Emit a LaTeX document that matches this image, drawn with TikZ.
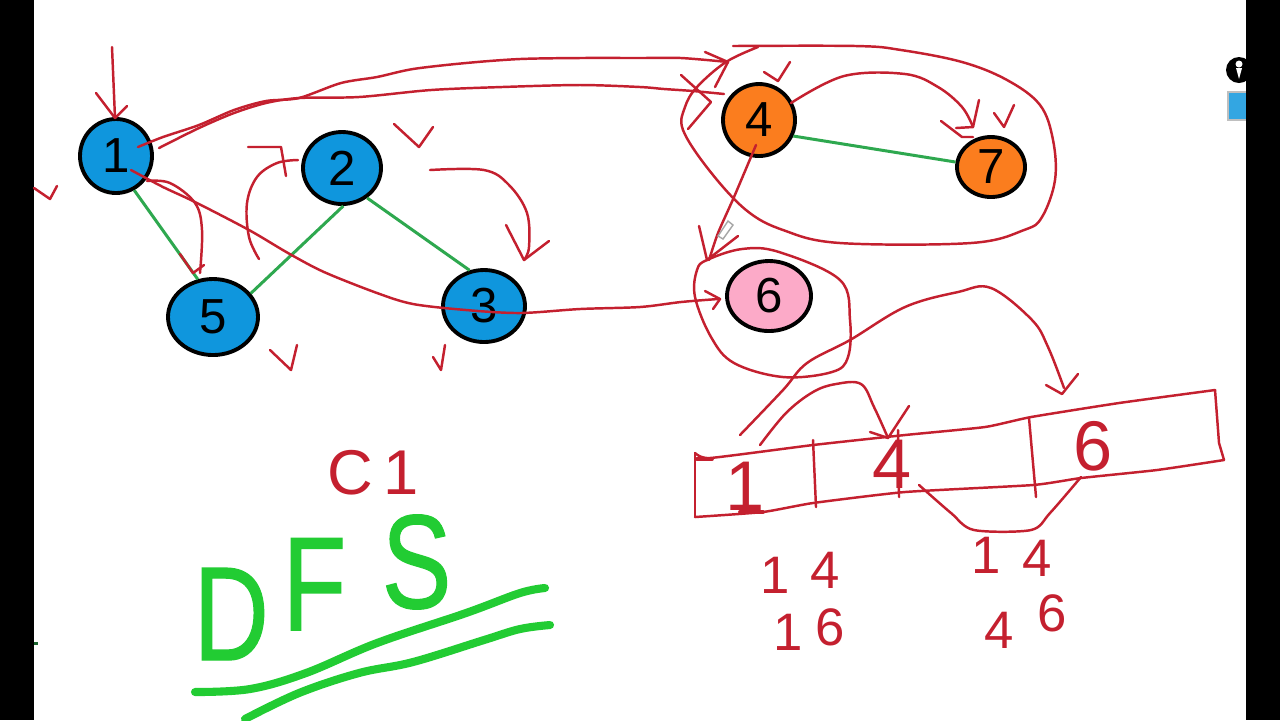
\documentclass[tikz,border=0pt]{standalone}
\usepackage{fontspec}
\setmainfont{Liberation Sans}
\newfontfamily\dfsfont[FakeBold=1]{Liberation Sans}
\usetikzlibrary{shapes.geometric}

\definecolor{penred}{HTML}{C4202F}
\definecolor{pengreen}{HTML}{22CC33}
\definecolor{edgegreen}{HTML}{2EA84F}
\definecolor{nodeblue}{HTML}{0F96DD}
\definecolor{nodeorange}{HTML}{FB7D1E}
\definecolor{nodepink}{HTML}{FCAAC8}

\tikzset{
  vertex/.style={draw=black, line width=1.1pt, ellipse, inner sep=0pt, font=\fontsize{14}{14}\selectfont},
  edge/.style={edgegreen, line width=0.85pt},
  redpen/.style={penred, line width=0.7pt, line cap=round, line join=round},
  greenpen/.style={pengreen, line width=2.3pt, line cap=round, line join=round},
  digit/.style={penred, inner sep=0pt, font=\fontsize{15}{15}\selectfont},
  celldigit/.style={penred, inner sep=0pt, font=\fontsize{20}{20}\selectfont},
}

\begin{document}
\begin{tikzpicture}[x=0.01cm, y=-0.01cm]
    \useasboundingbox (0,0) rectangle (1280,720);
    \fill[white] (0,0) rectangle (1280,720);

    % Bars and pen icon
    \fill[black] (1239,70) circle (13);
    \fill[white] (1239,64) circle (3.5);
    \fill[white] (1236,68) -- (1242,68) -- (1239,79) -- cycle;
    \fill[nodeblue!85!white, draw=black!25] (1228,92) rectangle (1248,120);
    \fill[black] (0,0) rectangle (34,720);
    \fill[black] (1246,0) rectangle (1280,720);
    \fill[edgegreen!60!black] (34,642) rectangle (38,645);

    % Vertices
    \foreach \name/\x/\y/\w/\h/\col in {1/116/156/72/74/nodeblue, 2/342/168/78/72/nodeblue, 3/484/306/82/72/nodeblue, 5/213/317/90/76/nodeblue, 4/759/120/72/72/nodeorange, 7/991/167/68/60/nodeorange, 6/769/296/84/70/nodepink} {
      \node[vertex, fill=\col, minimum width=\w*0.01cm, minimum height=\h*0.01cm] (n\name) at (\x,\y) {\name};
    }

    % Green edges
    \draw[edge] (n1.-62) -- (n5.112);
    \draw[edge] (n2.-88) -- (n5.32);
    \draw[edge] (n2.-50) -- (n3.112);
    \draw[edge] (n4.-25) -- (n7.172);

    % Check marks
    \foreach \xa/\ya/\xb/\yb/\xc/\yc in {34/188/50/199/57/186, 394/124/419/147/433/127, 270/350/291/370/297/345, 433/357/441/370/445/345, 764/72/778/81/790/62, 994/113/1004/127/1014/105} {
      \draw[redpen] (\xa,\ya) -- (\xb,\yb) -- (\xc,\yc);
    }

    % Arrow heads
    \foreach \xa/\ya/\xb/\yb/\xc/\yc in {96/93/115/118/127/106, 180/254/193/273/204/265, 506/225/524/260/549/241, 705/52/728/62/715/87, 941/121/962/137/973/137, 956/128/973/127/979/100, 699/226/707/260/738/236, 705/291/720/299/713/309, 1046/385/1062/394/1078/374, 870/432/888/438/909/406, 248/147/281/147/286/176} {
      \draw[redpen] (\xa,\ya) -- (\xb,\yb) -- (\xc,\yc);
    }

    % Red traversal curves
    \draw[redpen] (112,47) -- (115,118);
    \draw[redpen] plot[smooth, tension=0.5] coordinates {(138,147) (163,137) (199,125) (234,110) (266,101) (299,98) (341,83) (377,77) (413,69) (466,63) (520,59) (580,58) (640,58) (681,58) (728,62)};
    \draw[redpen] plot[smooth, tension=0.5] coordinates {(159,148) (199,128) (234,113) (266,103) (299,98) (359,97) (431,90) (502,87) (580,85) (640,87) (664,89) (693,91) (724,94)};
    \draw[redpen] plot[smooth, tension=0.5] coordinates {(131,170) (163,187) (195,202) (249,230) (288,253) (324,272) (377,293) (413,304) (466,310) (520,313) (580,309) (640,307) (681,302) (718,299)};
    \draw[redpen] plot[smooth, tension=0.6] coordinates {(147,181) (170,183) (195,203) (202,230) (200,273)};
    \draw[redpen] plot[smooth, tension=0.6] coordinates {(259,259) (249,237) (247,203) (257,177) (277,163) (298,160)};
    \draw[redpen] plot[smooth, tension=0.6] coordinates {(430,170) (484,170) (509,185) (527,213) (529,247) (524,260)};
    \draw[redpen] plot[smooth, tension=0.6] coordinates {(791,103) (844,76) (905,74) (938,87) (962,107) (973,127)};
    \draw[redpen] plot[smooth, tension=0.4] coordinates {(756,145) (734,197) (718,233) (709,260)};
    \draw[redpen] (681,75) -- (711,102) -- (688,129);

    % Loops round the visited groups
    \draw[redpen] plot[smooth, tension=0.6] coordinates {(733,46) (856,46) (901,50) (962,62) (1007,80) (1040,105) (1053,140) (1055,180) (1042,217) (1024,230) (971,243) (840,243) (783,230) (746,210) (709,170) (683,130) (685,107) (697,87) (726,62) (758,47)};
    \draw[redpen] plot[smooth cycle, tension=0.6] coordinates {(707,260) (742,249) (779,252) (840,280) (850,320) (848,357) (832,372) (783,377) (734,363) (711,337) (695,297) (697,270)};

    % Pencil cursor
    \draw[black!35, line width=0.4pt, fill=white] (718,236) -- (728,221) -- (733,225) -- (723,239) -- cycle;

    % Array
    \draw[redpen] plot[smooth, tension=0.3] coordinates {(695,453) (710,458) (813,445) (905,435) (985,427) (1031,417) (1119,403) (1215,390)};
    \draw[redpen] (1215,390) -- (1219,443) -- (1224,460);
    \draw[redpen] plot[smooth, tension=0.3] coordinates {(1224,460) (1157,470) (1081,478) (1033,485) (905,492) (813,503) (763,512) (695,517)};
    \draw[redpen] (695,517) -- (695,453);
    \draw[redpen] (813,440) -- (816,507);
    \draw[redpen] (1029,418) -- (1036,497);
    \draw[redpen] (898,430) -- (899,497);
    \draw[redpen, line width=1.1pt] (697,459) -- (712,459);
    \draw[redpen, line width=1.1pt] (740,512) -- (763,512);

    % Arrows over the array
    \draw[redpen] plot[smooth, tension=0.6] coordinates {(740,435) (783,390) (807,363) (850,340) (905,307) (958,292) (991,288) (1032,320) (1048,347) (1064,388)};
    \draw[redpen] plot[smooth, tension=0.6] coordinates {(760,445) (786,413) (813,392) (836,384) (861,384) (874,407) (888,438)};
    \draw[redpen] plot[smooth, tension=0.5] coordinates {(919,485) (951,513) (974,530) (1031,530) (1050,513) (1081,477)};

    % Digits in and under the array
    \foreach \name/\x/\y/\txt in {aa/745/486/1, ab/892/464/4, ac/1093/446/6} {
      \node[celldigit] (d\name) at (\x,\y) {\txt};
    }
    \foreach \name/\x/\y/\txt in {ba/775/575/1, bb/825/570/4, bc/788/632/1, bd/830/627/6, ca/986/555/1, cb/1037/558/4, cc/999/630/4, cd/1052/613/6} {
      \node[digit] (d\name) at (\x,\y) {\txt};
    }

    % Title
    \node[penred, inner sep=0pt, font=\fontsize{18}{18}\selectfont] (cone) at (373,473) {C\,1};
    \node[pengreen, inner sep=0pt, anchor=base west, xscale=0.78, font=\dfsfont\fontsize{38}{38}\selectfont] (title) at (193,660) {D\hspace{5pt}\raisebox{8.5pt}{F}\hspace{13pt}\raisebox{14.8pt}{S}};
    \draw[greenpen] plot[smooth, tension=0.6] coordinates {(195,692) (250,689) (306,673) (377,643) (466,613) (520,593) (545,588)};
    \draw[greenpen] plot[smooth, tension=0.6] coordinates {(245,719) (299,693) (359,673) (413,662) (484,640) (520,629) (550,625)};
\end{tikzpicture}
\end{document}
